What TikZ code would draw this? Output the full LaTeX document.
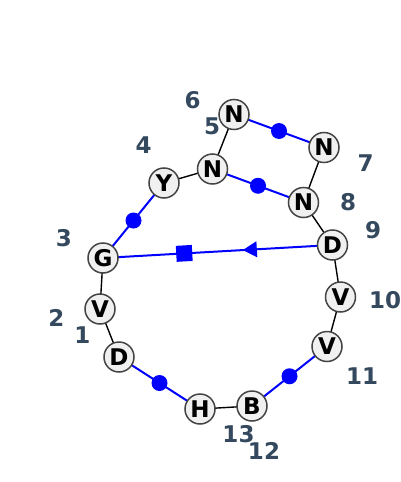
\documentclass[tikz,border=0pt]{standalone}
\usepackage{fontspec}
\setmainfont{DejaVu Sans}
\usetikzlibrary{shapes.geometric}
\definecolor{lbl}{HTML}{34495E}
\definecolor{nfill}{HTML}{F0F0F0}
\definecolor{nline}{HTML}{444444}
\tikzset{
  res/.style={circle,draw=nline,line width=1.5pt,fill=nfill,minimum size=30pt,inner sep=0pt,font=\fontsize{23}{26}\selectfont\bfseries},
  num/.style={text=lbl,font=\fontsize{23}{26}\selectfont\bfseries,inner sep=0pt},
  bb/.style={draw=black,line width=1.4pt},
  blu/.style={draw=blue,line width=2pt},
  bdot/.style={circle,fill=blue,minimum size=16pt,inner sep=0pt},
  bsq/.style={rectangle,fill=blue,minimum size=16pt,inner sep=0pt},
  btri/.style={isosceles triangle,fill=blue,minimum height=14pt,minimum width=14pt,isosceles triangle apex angle=60,inner sep=0pt,shape border rotate=180,sloped}
}
\begin{document}
\begin{tikzpicture}[x=1pt,y=-1pt]
\useasboundingbox (0,0) rectangle (400,482);
% coordinates of nodes
\coordinate (p1) at (119,357);
\coordinate (p2) at (100,309);
\coordinate (p3) at (103,258);
\coordinate (p4) at (164,183);
\coordinate (p5) at (212.5,169);
\coordinate (p6) at (234,114.5);
\coordinate (p7) at (324,147.5);
\coordinate (p8) at (303.5,202.5);
\coordinate (p9) at (332.5,245);
\coordinate (p10) at (340.5,297);
\coordinate (p11) at (327,346.5);
\coordinate (p12) at (252,406);
\coordinate (p13) at (200,409);
% edges
\draw[bb] (p3) -- (p2);
\draw[bb] (p2) -- (p1);
\draw[bb] (p13) -- (p12);
\draw[bb] (p11) -- (p10);
\draw[bb] (p10) -- (p9);
\draw[bb] (p9) -- (p8);
\draw[bb] (p8) -- (p7);
\draw[bb] (p5) -- (p6);
\draw[bb] (p4) -- (p5);
\draw[blu] (p3) -- node[bdot]{} (p4);
\draw[blu] (p5) -- node[bdot]{} (p8);
\draw[blu] (p6) -- node[bdot]{} (p7);
\draw[blu] (p1) -- node[bdot]{} (p13);
\draw[blu] (p12) -- node[bdot]{} (p11);
\draw[blu] (p3) -- node[bsq,pos=0.354,sloped]{} node[btri,pos=0.65]{} (p9);
% residue nodes
\node[res] (n1) at (p1) {D};
\node[res] (n2) at (p2) {V};
\node[res] (n3) at (p3) {G};
\node[res] (n4) at (p4) {Y};
\node[res] (n5) at (p5) {N};
\node[res] (n6) at (p6) {N};
\node[res] (n7) at (p7) {N};
\node[res] (n8) at (p8) {N};
\node[res] (n9) at (p9) {D};
\node[res] (n10) at (p10) {V};
\node[res] (n11) at (p11) {V};
\node[res] (n12) at (p12) {B};
\node[res] (n13) at (p13) {H};
% numbers
\node[num] (l1) at (82.5,335) {1};
\node[num] (l2) at (56.5,317.5) {2};
\node[num] (l3) at (64,238.5) {3};
\node[num] (l4) at (143.5,145) {4};
\node[num] (l5) at (212,126) {5};
\node[num] (l6) at (192.5,100) {6};
\node[num] (l7) at (365.5,163) {7};
\node[num] (l8) at (348,202.5) {8};
\node[num] (l9) at (373,230.5) {9};
\node[num] (l10) at (385,300) {10};
\node[num] (l11) at (362,376) {11};
\node[num] (l12) at (264,451) {12};
\node[num] (l13) at (238.5,434.5) {13};
\end{tikzpicture}
\end{document}
